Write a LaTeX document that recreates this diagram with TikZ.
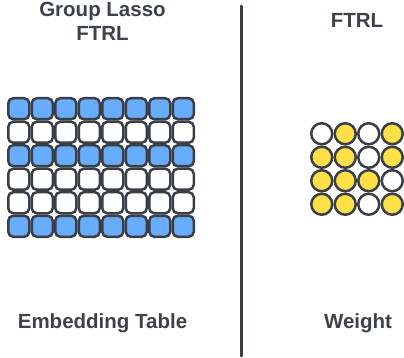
\documentclass[tikz,border=0pt]{standalone}
\usepackage{fontspec}
\setmainfont{Liberation Sans}
\usetikzlibrary{shapes.geometric}
\definecolor{cellblue}{HTML}{68ACFC}
\definecolor{cellyellow}{HTML}{FDE047}
\definecolor{edgegray}{HTML}{3A3F46}
\definecolor{textgray}{HTML}{3D4149}

\begin{document}
\begin{tikzpicture}
[every node/.style={inner sep=0pt},
 cell/.style={rectangle, rounded corners=5pt, minimum size=21pt, line width=2.5pt, draw=edgegray},
 dot/.style={circle, minimum size=21pt, line width=2.5pt, draw=edgegray},
 label/.style={font=\bfseries\fontsize{20.5}{24}\selectfont, text=textgray, align=center}]
\useasboundingbox (0pt, 0pt) rectangle (404pt, -358pt);
% titles
\node (lasso) [label, anchor=north] at (102.5pt, -2.2pt) {Group Lasso\\FTRL};
\node (ftrl) [label, anchor=base] at (357pt, -28pt) {FTRL};
% divider
\coordinate (divtop) at (241pt, -6pt);
\coordinate (divbot) at (241pt, -356pt);
\draw [line width=3pt, line cap=round, color=edgegray] (divtop) to (divbot);
% embedding table
\foreach \r/\fillc in {1/cellblue, 2/white, 3/cellblue, 4/white, 5/white, 6/cellblue}
  \foreach \c in {1,...,8}
    \node (e\r\c) [cell, fill=\fillc] at ({-4.75pt+23.5pt*\c}, {-85.25pt-23.5pt*\r}) {};
% weight
\node (w11) [dot, fill=white] at (321.75pt, -133.75pt) {};
\node (w12) [dot, fill=cellyellow] at (345.25pt, -133.75pt) {};
\node (w13) [dot, fill=white] at (368.75pt, -133.75pt) {};
\node (w14) [dot, fill=cellyellow] at (392.25pt, -133.75pt) {};
\node (w21) [dot, fill=cellyellow] at (321.75pt, -157.25pt) {};
\node (w22) [dot, fill=cellyellow] at (345.25pt, -157.25pt) {};
\node (w23) [dot, fill=white] at (368.75pt, -157.25pt) {};
\node (w24) [dot, fill=cellyellow] at (392.25pt, -157.25pt) {};
\node (w31) [dot, fill=cellyellow] at (321.75pt, -180.75pt) {};
\node (w32) [dot, fill=cellyellow] at (345.25pt, -180.75pt) {};
\node (w33) [dot, fill=cellyellow] at (368.75pt, -180.75pt) {};
\node (w34) [dot, fill=white] at (392.25pt, -180.75pt) {};
\node (w41) [dot, fill=cellyellow] at (321.75pt, -204.25pt) {};
\node (w42) [dot, fill=cellyellow] at (345.25pt, -204.25pt) {};
\node (w43) [dot, fill=white] at (368.75pt, -204.25pt) {};
\node (w44) [dot, fill=cellyellow] at (392.25pt, -204.25pt) {};
% captions
\node (table) [label, anchor=base] at (102.5pt, -328pt) {Embedding Table};
\node (weight) [label, anchor=base] at (358pt, -328pt) {Weight};
\end{tikzpicture}
\end{document}
